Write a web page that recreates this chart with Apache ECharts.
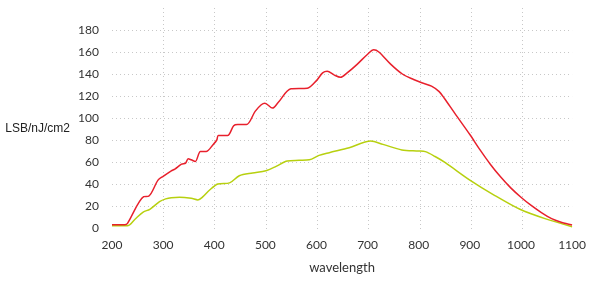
<!DOCTYPE html>
<html>
<head>
<meta charset="utf-8">
<script src="https://cdn.jsdelivr.net/npm/echarts@6/dist/echarts.min.js"></script>
<style>
  html, body { margin: 0; padding: 0; background: #fff; }
  #chart { width: 589px; height: 282px; }
</style>
</head>
<body>
<div id="chart"></div>
<script>
// wavelength (nm) -> LSB/nJ/cm2
const redSeries = [
  [200, 3], [225, 3], [230, 4], [262, 28.5], [272, 29], [290, 43.5], [300, 47],
  [316, 52], [323, 53.5], [336, 58], [344, 59], [349, 63], [355, 62], [363, 60.5],
  [373, 69.5], [384, 69.5], [398, 76], [405, 80], [408, 84], [426, 84], [438, 93],
  [446, 94], [463, 94], [480, 106], [492, 112], [499, 113.5], [514, 109], [525, 114],
  [550, 126.5], [582, 127], [600, 134], [612, 141], [621, 142.5], [635, 139],
  [647, 137], [660, 141], [680, 149], [700, 158], [712, 162], [722, 160], [745, 149],
  [768, 140], [790, 135], [806, 132], [825, 129], [840, 124], [850, 118], [871, 104],
  [900, 85], [920, 71], [940, 58], [960, 46.5], [980, 36.5], [1000, 28], [1020, 20.5],
  [1040, 14], [1060, 8.5], [1080, 5], [1100, 2.7]
];
const greenSeries = [
  [200, 2], [230, 2], [245, 8], [261, 14.5], [274, 17], [293, 24], [305, 26.5],
  [316, 27.6], [332, 28], [355, 27], [368, 25.5], [378, 28.5], [391, 34.5], [407, 40],
  [430, 41], [449, 47.5], [475, 50], [501, 52], [521, 56], [543, 61], [566, 61.5],
  [586, 62], [605, 66], [625, 68.5], [664, 73], [706, 79], [730, 76], [767, 71],
  [800, 70], [813, 69.4], [832, 65], [852, 59.4], [900, 43.6], [949, 29.5], [998, 17],
  [1047, 8.5], [1100, 1.2]
];
const xTicks = { min: 200, max: 1100, step: 100 };
const yTicks = { min: 0, max: 180, step: 20 };

const gridLine = { color: '#c8c8c8', width: 1, type: [1, 3] };
const labelFont = { fontFamily: 'Lato', fontSize: 12, color: '#333' };

const chart = echarts.init(document.getElementById('chart'), null, { renderer: 'canvas' });

chart.setOption({
  animation: false,
  grid: [
    { left: 112, right: 15, top: 30, bottom: 54 },
    { left: 112, right: 15, top: 8, bottom: 50 }
  ],
  xAxis: [
    {
      type: 'value', gridIndex: 0,
      min: xTicks.min, max: xTicks.max, interval: xTicks.step,
      name: 'wavelength', nameLocation: 'middle', nameGap: 33,
      nameTextStyle: { fontFamily: 'Lato', fontSize: 13, color: '#333' },
      axisLine: { show: false }, axisTick: { show: false },
      axisLabel: Object.assign({ margin: 11, formatter: (v) => String(v) }, labelFont),
      splitLine: { show: false }
    },
    {
      type: 'value', gridIndex: 1,
      min: xTicks.min, max: xTicks.max, interval: xTicks.step,
      axisLine: { show: false }, axisTick: { show: false }, axisLabel: { show: false },
      splitLine: { show: true, showMinLine: false, showMaxLine: false, lineStyle: gridLine }
    }
  ],
  yAxis: [
    {
      type: 'value', gridIndex: 0,
      min: yTicks.min, max: yTicks.max, interval: yTicks.step,
      name: 'LSB/nJ/cm2', nameLocation: 'middle', nameRotate: 0, nameGap: 42,
      nameTextStyle: { fontFamily: 'Liberation Sans', fontSize: 12, color: '#222' },
      axisLine: { show: false }, axisTick: { show: false },
      axisLabel: Object.assign({ margin: 13 }, labelFont),
      splitLine: { show: true, showMinLine: false, lineStyle: gridLine }
    },
    {
      type: 'value', gridIndex: 1, min: 0, max: 1, show: false
    }
  ],
  series: [
    {
      type: 'line', xAxisIndex: 0, yAxisIndex: 0,
      data: greenSeries, smooth: 0.3, showSymbol: false,
      lineStyle: { color: '#b7d00f', width: 1.5 }
    },
    {
      type: 'line', xAxisIndex: 0, yAxisIndex: 0,
      data: redSeries, smooth: 0.3, showSymbol: false,
      lineStyle: { color: '#e8202c', width: 1.5 }
    }
  ]
});
</script>
</body>
</html>
